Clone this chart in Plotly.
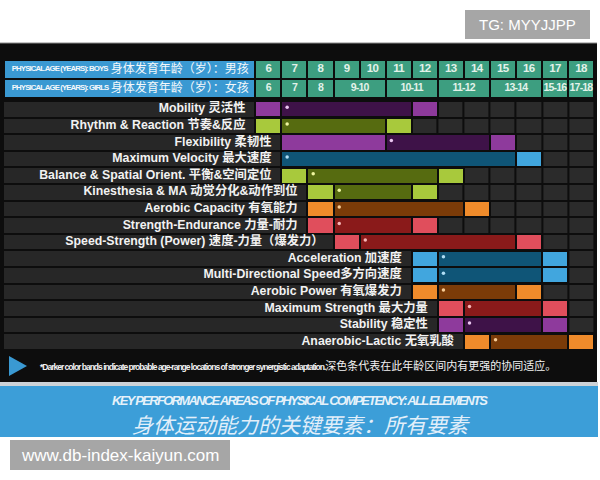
import plotly.graph_objects as go

W, H = 600, 480

# ---------------- data ----------------
elements = ["Mobility 灵活性", "Rhythm & Reaction 节奏&反应", "Flexibility 柔韧性",
            "Maximum Velocity 最大速度", "Balance & Spatial Orient. 平衡&空间定位",
            "Kinesthesia & MA 动觉分化&动作到位", "Aerobic Capacity 有氧能力",
            "Strength-Endurance 力量-耐力", "Speed-Strength (Power) 速度-力量（爆发力）",
            "Acceleration 加速度", "Multi-Directional Speed多方向速度", "Aerobic Power 有氧爆发力",
            "Maximum Strength 最大力量", "Stability 稳定性", "Anaerobic-Lactic 无氧乳酸"]
families = ["purple", "green", "purple", "blue", "green", "green", "orange", "red", "red",
            "blue", "blue", "orange", "red", "purple", "orange"]
lead_start = [6, 6, 7, 7, 7, 8, 8, 8, 9, 12, 12, 12, 13, 13, 14]
dark_start = [7, 7, 11, 7, 8, 9, 9, 9, 10, 13, 13, 13, 14, 14, 15]
dark_end = [11, 10, 14, 15, 12, 11, 13, 11, 15, 16, 16, 15, 16, 16, 17]
tail_age = [12, 11, 15, 16, 13, 12, 14, 12, 16, 17, 17, 16, 17, 17, 18]

boys_ages = list(range(6, 19))
girls_labels = ["6", "7", "8", "9-10", "10-11", "11-12", "13-14", "15-16", "17-18"]
girls_from = [6, 7, 8, 9, 11, 13, 15, 17, 18]
girls_to = [6, 7, 8, 10, 12, 14, 16, 17, 18]

header_en = ["PHYSICAL AGE (YEARS): BOYS", "PHYSICAL AGE (YEARS): GIRLS"]
header_zh = ["身体发育年龄（岁）：男孩", "身体发育年龄（岁）：女孩"]

light = {"purple": "#8e3a9c", "green": "#a8c93c", "blue": "#41a6de", "orange": "#ef8b2b", "red": "#e04e5c"}
dark = {"purple": "#3e1248", "green": "#566b10", "blue": "#0f5577", "orange": "#7b3b08", "red": "#8a1a1a"}
dotc = {"purple": "#eac6f0", "green": "#f0f6a0", "blue": "#b0def5", "orange": "#f9cc95", "red": "#f7b6b6"}

BG = "#0d0d0d"
SANS = "Liberation Sans, Arial, Noto Sans CJK SC, sans-serif"
CJK = "Noto Sans CJK SC, sans-serif"


def px(p):
    return p / W


def py(p):
    return 1 - p / H


def squeeze(t, ls):
    return f"<span style='letter-spacing:{ls}px'>{t}</span>"


X0 = -9.65
rows = list(range(len(elements)))
n_cols = len(boys_ages)

fig = go.Figure()

# background grid cells (right of each band)
z = [[1 if (c + 6) > tail_age[r] else None for c in range(n_cols)] for r in rows]
fig.add_trace(go.Heatmap(x=[c + 0.5 for c in range(n_cols)], y=rows, z=z, xgap=2, ygap=2,
                         colorscale=[[0, "#2b2b2b"], [1, "#2b2b2b"]], zmin=0, zmax=1,
                         showscale=False, hoverinfo="skip"))

# label stripes
fig.add_trace(go.Bar(y=rows, base=[X0] * len(rows), x=[l - 6 - X0 for l in lead_start],
                     orientation="h", width=0.88, marker=dict(color="#272727", line=dict(width=0)),
                     hoverinfo="skip"))

edge = dict(color=BG, width=2)
# lead light cells
fig.add_trace(go.Bar(y=rows, base=[l - 6 for l in lead_start],
                     x=[d - l for l, d in zip(lead_start, dark_start)], orientation="h", width=0.98,
                     marker=dict(color=[light[f] for f in families], line=edge), hoverinfo="skip"))
# dark bands
fig.add_trace(go.Bar(y=rows, base=[d - 6 for d in dark_start],
                     x=[e - d + 1 for d, e in zip(dark_start, dark_end)], orientation="h", width=0.98,
                     marker=dict(color=[dark[f] for f in families], line=edge), hoverinfo="skip"))
# tail light cells
fig.add_trace(go.Bar(y=rows, base=[t - 6 for t in tail_age], x=[1] * len(rows), orientation="h",
                     width=0.98, marker=dict(color=[light[f] for f in families], line=edge),
                     hoverinfo="skip"))

# dots
fig.add_trace(go.Scatter(x=[d - 6 + 0.22 for d in dark_start], y=[r - 0.12 for r in rows], mode="markers",
                         marker=dict(size=3.5, color=[dotc[f] for f in families]), hoverinfo="skip"))

# row labels
fig.add_trace(go.Scatter(x=[l - 6 - 0.38 for l in lead_start], y=rows, mode="text", text=elements,
                         textposition="middle left",
                         textfont=dict(family=SANS, size=12.3, color="#f2f2f2", weight="bold"),
                         hoverinfo="skip"))

# header: blue label boxes
fig.add_trace(go.Bar(y=[0, 1], base=[X0, X0], x=[-X0, -X0], orientation="h", width=0.98, yaxis="y2",
                     marker=dict(color="#3a99d2", line=edge), hoverinfo="skip"))
# header teal cells
fig.add_trace(go.Bar(y=[0] * n_cols, base=[a - 6 for a in boys_ages], x=[1] * n_cols, orientation="h",
                     width=0.98, yaxis="y2", marker=dict(color="#3d9e80", line=edge), hoverinfo="skip"))
fig.add_trace(go.Bar(y=[1] * len(girls_labels), base=[a - 6 for a in girls_from],
                     x=[b - a + 1 for a, b in zip(girls_from, girls_to)], orientation="h",
                     width=0.98, yaxis="y2", marker=dict(color="#3d9e80", line=edge), hoverinfo="skip"))
fig.add_trace(go.Scatter(x=[a - 6 + 0.5 for a in boys_ages], y=[0] * n_cols, yaxis="y2", mode="text",
                         text=[squeeze(str(a), -0.6) for a in boys_ages],
                         textfont=dict(family=SANS, size=11.5, color="#e3f2ea", weight="bold"),
                         hoverinfo="skip"))
fig.add_trace(go.Scatter(x=[(a + b) / 2 - 6 + 0.5 for a, b in zip(girls_from, girls_to)],
                         y=[1] * len(girls_labels), yaxis="y2", mode="text",
                         text=[squeeze(g, -0.8) for g in girls_labels],
                         textfont=dict(family=SANS, size=10.5, color="#e3f2ea", weight="bold"),
                         hoverinfo="skip"))
fig.add_trace(go.Scatter(x=[X0 + 0.3] * 2, y=[0, 1], yaxis="y2", mode="text",
                         text=[squeeze(t, -0.9) for t in header_en],
                         textposition="middle right",
                         textfont=dict(family=SANS, size=7.8, color="#f4f8fb", weight="bold"),
                         hoverinfo="skip"))
fig.add_trace(go.Scatter(x=[-0.25] * 2, y=[0, 1], yaxis="y2", mode="text", text=header_zh,
                         textposition="middle left",
                         textfont=dict(family=CJK, size=12, color="#f4f8fb"),
                         hoverinfo="skip"))

# ---------------- decorations ----------------
shapes = [
    dict(type="rect", xref="paper", yref="paper", x0=0, x1=px(597), y0=py(382), y1=py(43),
         fillcolor=BG, line=dict(width=0), layer="below"),
    dict(type="line", xref="paper", yref="paper", x0=0, x1=px(597), y0=py(43), y1=py(43),
         line=dict(color="#8a8a8a", width=1), layer="below"),
    dict(type="rect", xref="paper", yref="paper", x0=0, x1=px(598), y0=py(386), y1=py(382),
         fillcolor="#ccd2d7", line=dict(width=0), layer="below"),
    dict(type="rect", xref="paper", yref="paper", x0=0, x1=px(598), y0=py(437), y1=py(386),
         fillcolor="#3c9ed8", line=dict(width=0), layer="below"),
    dict(type="path", xref="paper", yref="paper",
         path=f"M {px(9)},{py(356)} L {px(27)},{py(366)} L {px(9)},{py(376)} Z",
         fillcolor="#3a99d2", line=dict(width=0), layer="below"),
    dict(type="rect", xref="paper", yref="paper", x0=px(465), x1=px(590), y0=py(39), y1=py(10),
         fillcolor="#a6a6a6", line=dict(width=0), layer="below"),
    dict(type="rect", xref="paper", yref="paper", x0=px(10), x1=px(230), y0=py(470), y1=py(440),
         fillcolor="#a6a6a6", line=dict(width=0), layer="below"),
]

note = ("<span style='font-weight:bold;font-size:8.5px;letter-spacing:-1px'>*Darker color bands indicate "
        "probable age-range locations of stronger synergistic adaptation.</span>"
        "<span style='font-family:Noto Sans CJK SC;font-size:11px'>深色条代表在此年龄区间内有更强的协同适应。</span>")

annotations = [
    dict(xref="paper", yref="paper", x=px(38), y=py(365), xanchor="left", yanchor="middle",
         text=note, showarrow=False, font=dict(family=SANS, color="#f2f2f2", size=9)),
    dict(xref="paper", yref="paper", x=px(300), y=py(400), xanchor="center", yanchor="middle",
         text="<b><i>" + squeeze("KEY PERFORMANCE AREAS OF PHYSICAL COMPETENCY: ALL ELEMENTS", -1.7) + "</i></b>",
         showarrow=False, font=dict(family=SANS, size=13, color="#e6f2fa")),
    dict(xref="paper", yref="paper", x=px(301), y=py(424), xanchor="center", yanchor="middle",
         text="<i>身体运动能力的关键要素：所有要素</i>",
         showarrow=False, font=dict(family=CJK, size=21, color="#e2effa")),
    dict(xref="paper", yref="paper", x=px(527.5), y=py(24.5), xanchor="center", yanchor="middle",
         text="TG: MYYJJPP", showarrow=False, font=dict(family=SANS, size=15, color="#ffffff")),
    dict(xref="paper", yref="paper", x=px(120), y=py(455), xanchor="center", yanchor="middle",
         text="www.db-index-kaiyun.com", showarrow=False,
         font=dict(family=SANS, size=17, color="#ffffff")),
]

fig.update_layout(
    width=W, height=H, margin=dict(l=0, r=0, t=0, b=0),
    paper_bgcolor="#ffffff", plot_bgcolor="rgba(0,0,0,0)",
    barmode="overlay", showlegend=False, bargap=0,
    xaxis=dict(domain=[px(4), px(594)], range=[X0, 13], visible=False, fixedrange=True),
    yaxis=dict(domain=[py(350), py(101)], range=[14.5, -0.5], visible=False, fixedrange=True),
    yaxis2=dict(domain=[py(98), py(60)], range=[1.5, -0.5], visible=False, fixedrange=True, anchor="x"),
    shapes=shapes, annotations=annotations,
)

fig.write_html("out.html", config={"displayModeBar": False},
               post_script="document.body.style.margin='0px';")
